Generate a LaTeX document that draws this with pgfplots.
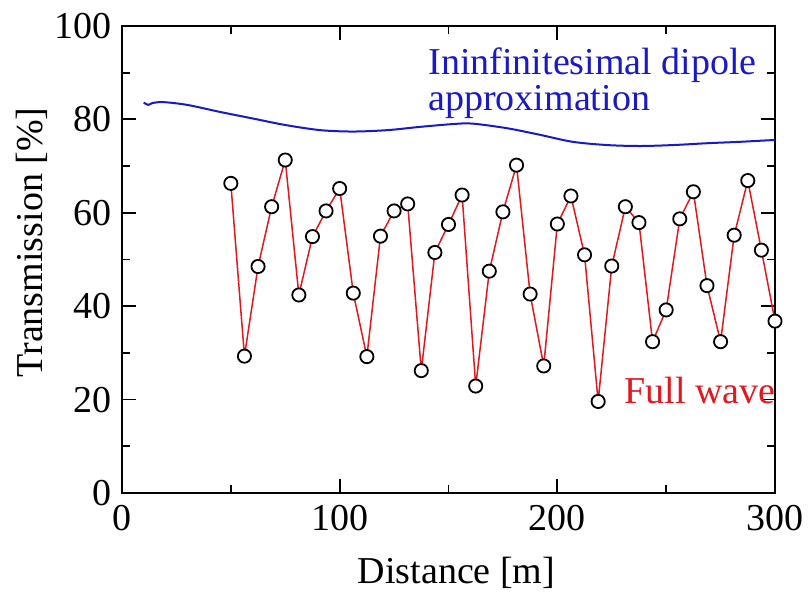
\documentclass[border=0pt]{standalone}
\usepackage{pgfplots}
\pgfplotsset{compat=1.18}
\usepackage{fontspec}
\setmainfont{Liberation Serif}
\definecolor{myblue}{RGB}{25,25,200}
\definecolor{myred}{RGB}{225,25,30}
\begin{document}
\fontsize{19}{18}\selectfont
\begin{tikzpicture}
\begin{axis}[
  at={(0,0)}, anchor=south west,
  scale only axis,
  width=326.5pt, height=233.5pt,
  xmin=0, xmax=300, ymin=0, ymax=100,
  xtick={0,100,200,300}, ytick={0,20,40,60,80,100},
  minor x tick num=1, minor y tick num=1,
  tick align=inside,
  major tick length=7pt, minor tick length=4pt,
  every tick/.style={black, line width=0.9pt},
  axis line style={black, line width=0.9pt},
  /pgf/number format/assume math mode=true,
  tick label style={inner sep=0pt},
  yticklabel style={xshift=-5pt},
  xticklabel style={yshift=-6pt},
  xlabel={Distance [m]},
  ylabel={Transmission [\%]},
  xlabel style={at={(axis description cs:0.5,0)}, anchor=north, inner sep=0pt, xshift=4pt, yshift=-32pt},
  every axis y label/.style={at={([xshift=-37pt,yshift=8.5pt]axis description cs:0,0.5)}, rotate=90, anchor=south, inner sep=0pt},
  clip=false,
]
\addplot[myblue, line width=1pt, smooth, tension=0.5] coordinates {
(10,83.6) (12,83.1) (14,83.5) (19,83.7) (30,83.1) (45,81.6) (60,80.2) (75,78.8)
(91,77.7) (106,77.4) (122,77.7) (137,78.4) (152,79.0) (161,79.1) (177,78.1)
(192,76.7) (207,75.2) (223,74.5) (238,74.3) (253,74.5) (269,74.9) (284,75.2)
(300,75.6)
};
\addplot[myred, line width=0.75pt, mark=*, mark size=3.3pt,
  mark options={draw=black, fill=white, line width=0.9pt}] coordinates {
(50,66.3) (56.25,29.3) (62.5,48.5) (68.75,61.3) (75,71.3) (81.25,42.4)
(87.5,54.9) (93.75,60.4) (100,65.2) (106.25,42.8) (112.5,29.2) (118.75,55.0)
(125,60.4) (131.25,61.9) (137.5,26.2) (143.75,51.5) (150,57.5) (156.25,63.8)
(162.5,22.9) (168.75,47.5) (175,60.2) (181.25,70.2) (187.5,42.6) (193.75,27.2)
(200,57.6) (206.25,63.6) (212.5,51.0) (218.75,19.6) (225,48.6) (231.25,61.3)
(237.5,57.9) (243.75,32.4) (250,39.2) (256.25,58.7) (262.5,64.5) (268.75,44.4)
(275,32.4) (281.25,55.2) (287.5,66.9) (293.75,52.0) (300,36.8)
};
\node[anchor=north west, inner sep=0pt, align=left, text=myblue] at (axis cs:140.6,95.5)
  {Ininfinitesimal dipole\\approximation};
\node[anchor=north west, inner sep=0pt, text=myred] at (axis cs:230.6,24.8) {Full wave};
\end{axis}
\pgfresetboundingbox
\path (-61pt,-49.5pt) rectangle (343.5pt,246.5pt);
\end{tikzpicture}
\end{document}
